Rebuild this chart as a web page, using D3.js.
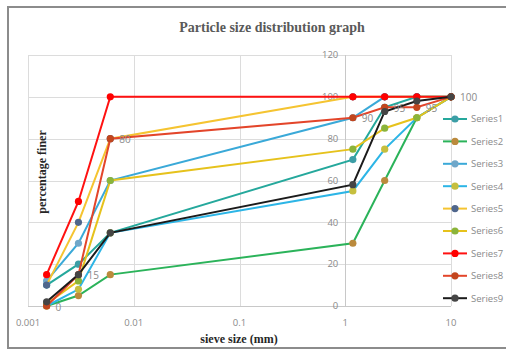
<!DOCTYPE html>
<html>
<head>
<meta charset="utf-8">
<script src="https://cdn.jsdelivr.net/npm/d3@7"></script>
<style>
  body { margin: 0; background: #fff; }
  svg { display: block; }
</style>
</head>
<body>
<svg width="506" height="349"></svg>
<script>
// sieve sizes (mm) shared by every series
var sizes = [0.0015, 0.003, 0.006, 1.18, 2.36, 4.75, 10];

var series1 = [10, 20, 35, 70, 95, 100, 100];
var series2 = [0, 5, 15, 30, 60, 90, 100];
var series3 = [12, 30, 60, 90, 100, 100, 100];
var series4 = [0, 8, 35, 55, 75, 90, 100];
var series5 = [10, 40, 80, 100, 100, 100, 100];
var series6 = [1, 12, 60, 75, 85, 90, 100];
var series7 = [15, 50, 100, 100, 100, 100, 100];
var series8 = [0, 15, 80, 90, 95, 95, 100];
var series9 = [2, 15, 35, 58, 93, 98, 100];

var names = ["Series1", "Series2", "Series3", "Series4", "Series5", "Series6", "Series7", "Series8", "Series9"];
var xTicks = [0.001, 0.01, 0.1, 1, 10];
var xTickLabels = ["0.001", "0.01", "0.1", "1", "10"];
var yTicks = [0, 20, 40, 60, 80, 100, 120];

var lineColors = ["#25a89c", "#2bb35a", "#3aa9d8", "#2cb5e6", "#f5c431", "#e6c21c", "#ff1111", "#e3452a", "#1b1b1b"];
var markerColors = ["#3c9ea6", "#bb8a3c", "#70a7c9", "#c6bf3e", "#4f668c", "#8bb43a", "#ff0000", "#c2461e", "#454545"];

var allSeries = [series1, series2, series3, series4, series5, series6, series7, series8, series9];

var svg = d3.select("svg"),
    width = +svg.attr("width"),
    height = +svg.attr("height");

// outer frame
svg.append("rect")
    .attr("x", 8).attr("y", 7)
    .attr("width", 510).attr("height", 341)
    .attr("fill", "none")
    .attr("stroke", "#8c8c8c")
    .attr("stroke-width", 2);

var x = d3.scaleLog().domain([0.001, 10]).range([28, 451]);
var y = d3.scaleLinear().domain([0, 120]).range([306, 55]);

// grid
var grid = svg.append("g").attr("stroke", "#dcdcdc").attr("stroke-width", 1);
grid.selectAll(".h").data(yTicks).enter().append("line")
    .attr("x1", x(0.001)).attr("x2", x(10))
    .attr("y1", function(d) { return Math.round(y(d)) + 0.5; })
    .attr("y2", function(d) { return Math.round(y(d)) + 0.5; });
grid.selectAll(".v").data(xTicks).enter().append("line")
    .attr("y1", y(0)).attr("y2", y(120))
    .attr("x1", function(d) { return Math.round(x(d)) + 0.5; })
    .attr("x2", function(d) { return Math.round(x(d)) + 0.5; });

// axis lines (vertical axis crosses at 1)
svg.append("line")
    .attr("x1", x(0.001)).attr("x2", x(10))
    .attr("y1", Math.round(y(0)) + 0.5).attr("y2", Math.round(y(0)) + 0.5)
    .attr("stroke", "#c8c8c8");
svg.append("line")
    .attr("x1", Math.round(x(1)) + 0.5).attr("x2", Math.round(x(1)) + 0.5)
    .attr("y1", y(0)).attr("y2", y(120))
    .attr("stroke", "#c8c8c8");

// tick labels
svg.append("g").selectAll("text").data(xTicks).enter().append("text")
    .attr("x", function(d) { return x(d); })
    .attr("y", 326)
    .attr("text-anchor", "middle")
    .attr("fill", "#8a8a8a")
    .style("font", "9.5px 'Open Sans', sans-serif")
    .text(function(d, i) { return xTickLabels[i]; });

svg.append("g").selectAll("text").data(yTicks).enter().append("text")
    .attr("x", x(1) - 7)
    .attr("y", function(d) { return y(d); })
    .attr("dy", "0.35em")
    .attr("text-anchor", "end")
    .attr("fill", "#8a8a8a")
    .style("font", "9.5px 'Open Sans', sans-serif")
    .text(function(d) { return d; });

// lines + markers
var line = d3.line()
    .x(function(d, i) { return x(sizes[i]); })
    .y(function(d) { return y(d); });

var sg = svg.append("g").selectAll("g").data(allSeries).enter().append("g");

sg.append("path")
    .attr("d", line)
    .attr("fill", "none")
    .attr("stroke", function(d, i) { return lineColors[i]; })
    .attr("stroke-width", 2);

sg.each(function(d, i) {
    d3.select(this).selectAll("circle").data(d).enter().append("circle")
        .attr("cx", function(v, j) { return x(sizes[j]); })
        .attr("cy", function(v) { return y(v); })
        .attr("r", 3.6)
        .attr("fill", markerColors[i]);
});

// data labels on Series8
svg.append("g").selectAll("text").data(series8).enter().append("text")
    .attr("x", function(d, i) { return x(sizes[i]) + 9; })
    .attr("y", function(d) { return y(d) + 1; })
    .attr("dy", "0.35em")
    .attr("fill", "#8a8a8a")
    .style("font", "10px 'Open Sans', sans-serif")
    .text(function(d) { return d; });

// legend
var legend = svg.append("g").selectAll("g").data(names).enter().append("g")
    .attr("transform", function(d, i) { return "translate(443," + (119 + i * 22.4) + ")"; });
legend.append("line")
    .attr("x1", 0).attr("x2", 24)
    .attr("stroke", function(d, i) { return lineColors[i]; })
    .attr("stroke-width", 2);
legend.append("circle")
    .attr("cx", 12).attr("r", 3.6)
    .attr("fill", function(d, i) { return markerColors[i]; });
legend.append("text")
    .attr("x", 28).attr("dy", "0.35em")
    .attr("fill", "#8a8a8a")
    .style("font", "9.5px 'Open Sans', sans-serif")
    .text(function(d) { return d; });

// titles
svg.append("text")
    .attr("x", 272).attr("y", 32)
    .attr("text-anchor", "middle")
    .attr("fill", "#595959")
    .style("font", "bold 14px 'Liberation Serif', serif")
    .text("Particle size distribution graph");

svg.append("text")
    .attr("transform", "translate(46,172)rotate(-90)")
    .attr("text-anchor", "middle")
    .attr("fill", "#262626")
    .style("font", "bold 12px 'Liberation Serif', serif")
    .text("percentage finer");

svg.append("text")
    .attr("x", 239).attr("y", 343)
    .attr("text-anchor", "middle")
    .attr("fill", "#262626")
    .style("font", "bold 12px 'Liberation Serif', serif")
    .text("sieve size (mm)");
</script>
</body>
</html>
